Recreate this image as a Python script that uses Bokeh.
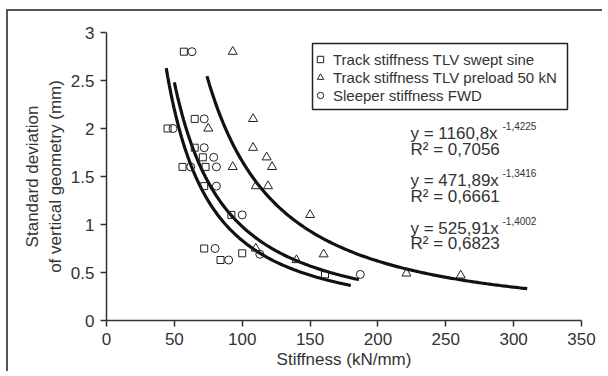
import numpy as np
from bokeh.plotting import figure
from bokeh.models import FixedTicker, Legend, LegendItem, Label, BoxAnnotation
from bokeh.embed import file_html
from bokeh.resources import INLINE

# ---- data ----
sq_x = [57, 65, 45, 65, 71, 56, 73, 72, 92, 72, 100, 84, 161]
sq_y = [2.8, 2.1, 2.0, 1.8, 1.7, 1.6, 1.6, 1.4, 1.1, 0.75, 0.7, 0.63, 0.48]

tri_x = [93, 108, 75, 108, 118, 93, 122, 110, 119, 150, 110, 140, 160, 221, 261]
tri_y = [2.8, 2.1, 2.0, 1.8, 1.7, 1.6, 1.6, 1.4, 1.4, 1.1, 0.75, 0.63, 0.69, 0.49, 0.47]

cir_x = [63, 72, 49, 72, 79, 62, 81, 81, 100, 80, 113, 90, 187]
cir_y = [2.8, 2.1, 2.0, 1.8, 1.7, 1.6, 1.6, 1.4, 1.1, 0.75, 0.69, 0.63, 0.48]

series_names = ["Track stiffness TLV swept sine",
                "Track stiffness TLV preload 50 kN",
                "Sleeper stiffness FWD"]

# power-law trend lines y = a * x^b, drawn over [x_start, x_end]
fit_a = [1160.8, 471.89, 525.91]
fit_b = [-1.4225, -1.3416, -1.4002]
fit_r2 = ["0,7056", "0,6661", "0,6823"]
fit_a_txt = ["1160,8", "471,89", "525,91"]
fit_b_txt = ["-1,4225", "-1,3416", "-1,4002"]
fit_x_start = [74, 50, 44]
fit_x_end = [310, 186, 180]

x_ticks = [0, 50, 100, 150, 200, 250, 300, 350]
x_tick_labels = ["0", "50", "100", "150", "200", "250", "300", "350"]
y_ticks = [0, 0.5, 1, 1.5, 2, 2.5, 3]
y_tick_labels = ["0", "0.5", "1", "1.5", "2", "2.5", "3"]

FONT = "Liberation Sans"
TXT = "#333333"

p = figure(width=596, height=362, x_range=(0, 350), y_range=(0, 3),
           output_backend="svg", toolbar_location=None,
           min_border_left=98, min_border_right=23, min_border_top=21, min_border_bottom=53,
           styles={"border-top": "2px solid #555555", "border-left": "2px solid #555555",
                   "margin-left": "6px", "margin-top": "9px"})
p.grid.visible = False
p.outline_line_color = None
p.background_fill_color = "white"

p.xaxis.ticker = FixedTicker(ticks=x_ticks)
p.yaxis.ticker = FixedTicker(ticks=y_ticks)
p.xaxis.major_label_overrides = {t: l for t, l in zip(x_ticks, x_tick_labels)}
p.yaxis.major_label_overrides = {t: l for t, l in zip(y_ticks, y_tick_labels)}
for ax in (p.xaxis, p.yaxis):
    ax.minor_tick_line_color = None
    ax.major_tick_in = 0
    ax.major_tick_out = 6
    ax.major_tick_line_color = TXT
    ax.major_tick_line_width = 1.5
    ax.axis_line_color = TXT
    ax.axis_line_width = 1.5
    ax.major_label_text_font = FONT
    ax.major_label_text_font_size = "17px"
    ax.major_label_text_color = TXT
    ax.axis_label_text_font = FONT
    ax.axis_label_text_font_size = "17px"
    ax.axis_label_text_font_style = "normal"
    ax.axis_label_text_color = TXT
p.xaxis.axis_label = "Stiffness (kN/mm)"
p.xaxis.axis_label_standoff = 2
p.xaxis.major_label_standoff = 6
p.yaxis.axis_label = "Standard deviation\nof vertical geometry (mm)"
p.yaxis.axis_label_standoff = 3
p.yaxis.major_label_standoff = 6

# trend lines
for a, b, x0, x1 in zip(fit_a, fit_b, fit_x_start, fit_x_end):
    xs = np.linspace(x0, x1, 120)
    p.line(xs, a * xs ** b, line_color="#111111", line_width=3.2)

mk = dict(fill_color=None, line_color="#222222", line_width=1)
r_sq = p.scatter(sq_x, sq_y, marker="square", size=7, **mk)
r_tri = p.scatter(tri_x, tri_y, marker="triangle", size=9, **mk)
r_cir = p.scatter(cir_x, cir_y, marker="circle", size=8, **mk)

# legend frame (screen units relative to plot frame bottom-left)
box = BoxAnnotation(left=206, right=461, top=277, bottom=211,
                    left_units="screen", right_units="screen",
                    top_units="screen", bottom_units="screen",
                    fill_color="white", fill_alpha=1,
                    line_color="#222222", line_width=1.5, line_alpha=1)
p.add_layout(box)

legend = Legend(items=[LegendItem(label=series_names[0], renderers=[r_sq]),
                       LegendItem(label=series_names[1], renderers=[r_tri]),
                       LegendItem(label=series_names[2], renderers=[r_cir])],
                location=(206, 216), padding=1, spacing=0, margin=0,
                label_height=18, glyph_height=16, glyph_width=16, label_standoff=5,
                label_text_font=FONT, label_text_font_size="15px", label_text_color=TXT,
                border_line_color=None, background_fill_alpha=0)
p.add_layout(legend, "center")

# equations (screen units relative to frame bottom-left)
for i in range(3):
    cy1 = [133, 180, 228][i]
    cy2 = [149, 196, 243][i]
    x_left = 410 - 106
    main = Label(x=x_left, y=320 - cy1, x_units="screen", y_units="screen",
                 text=f"y = {fit_a_txt[i]}x", text_font=FONT, text_font_size="17px",
                 text_color=TXT, text_baseline="middle", text_align="left")
    sup = Label(x=x_left + 92, y=320 - cy1 + 8, x_units="screen", y_units="screen",
                text=fit_b_txt[i], text_font=FONT, text_font_size="10px",
                text_color=TXT, text_baseline="middle", text_align="left")
    r2 = Label(x=x_left, y=320 - cy2, x_units="screen", y_units="screen",
               text=f"R² = {fit_r2[i]}", text_font=FONT, text_font_size="17px",
               text_color=TXT, text_baseline="middle", text_align="left")
    for lab in (main, sup, r2):
        p.add_layout(lab)

open("out.html", "w").write(file_html(p, INLINE))
